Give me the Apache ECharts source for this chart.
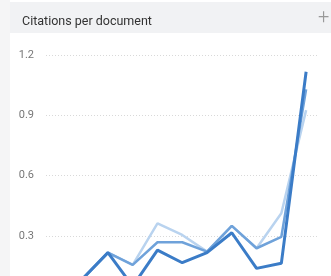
<!DOCTYPE html>
<html>
<head>
<meta charset="utf-8">
<script src="https://cdn.jsdelivr.net/npm/echarts@6/dist/echarts.min.js"></script>
<style>
  html, body { margin: 0; padding: 0; background: #fff; }
  #main { width: 331px; height: 276px; }
</style>
</head>
<body>
<div id="main"></div>
<script>
var myChart = echarts.init(document.getElementById('main'));

// years (x labels fall below the visible area)
var years = ['2012', '2013', '2014', '2015', '2016', '2017', '2018', '2019', '2020', '2021', '2022'];
var yTicks = [0, 0.3, 0.6, 0.9, 1.2];

var cites4 = [0.05, 0.09, 0.217, 0.05, 0.23, 0.167, 0.217, 0.316, 0.139, 0.164, 1.117];
var cites3 = [0.05, 0.09, 0.217, 0.156, 0.269, 0.269, 0.222, 0.35, 0.239, 0.296, 1.029];
var cites2 = [0.05, 0.09, 0.217, 0.156, 0.363, 0.305, 0.222, 0.35, 0.239, 0.413, 0.926];

var seriesNames = ['Cites / Doc. (2 years)', 'Cites / Doc. (3 years)', 'Cites / Doc. (4 years)'];
var colorArr = ['#b9d3ef', '#6fa2da', '#3b7cc7'];

option = {
    animation: false,
    graphic: [
        { type: 'rect', shape: { x: 0, y: 0, width: 10, height: 276 }, style: { fill: '#f5f5f6' }, silent: true },
        { type: 'rect', shape: { x: 10, y: 2, width: 321, height: 31 }, style: { fill: '#f1f2f4' }, silent: true },
        { type: 'text', left: 318, top: 8, style: { text: '+', fill: '#999', font: '300 20px Roboto' } }
    ],
    title: {
        text: 'Citations per document',
        left: 17,
        top: 10,
        textStyle: { fontFamily: 'Roboto', fontSize: 12.5, fontWeight: 'normal', color: '#333' }
    },
    color: colorArr,
    grid: {
        left: 46, right: 12.5, top: 55, height: 241.3,
        containLabel: false,
        outerBoundsMode: 'none'
    },
    xAxis: {
        type: 'category',
        data: years,
        boundaryGap: true,
        axisLine: { show: false },
        axisTick: { show: false },
        axisLabel: { show: false }
    },
    yAxis: {
        type: 'value',
        min: yTicks[0],
        max: yTicks[yTicks.length - 1],
        interval: 0.3,
        axisLine: { show: false },
        axisTick: { show: false },
        axisLabel: { color: '#777', fontFamily: 'Roboto', fontSize: 11, margin: 12 },
        splitLine: { lineStyle: { color: '#d9d9d9', type: [1, 2], width: 1 } }
    },
    series: [
        { name: seriesNames[0], type: 'line', data: cites2, symbol: 'none', lineStyle: { width: 2.5, color: colorArr[0] }, z: 2 },
        { name: seriesNames[1], type: 'line', data: cites3, symbol: 'none', lineStyle: { width: 2.5, color: colorArr[1] }, z: 3 },
        { name: seriesNames[2], type: 'line', data: cites4, symbol: 'none', lineStyle: { width: 3, color: colorArr[2] }, z: 4 }
    ]
};
myChart.setOption(option);
</script>
</body>
</html>
